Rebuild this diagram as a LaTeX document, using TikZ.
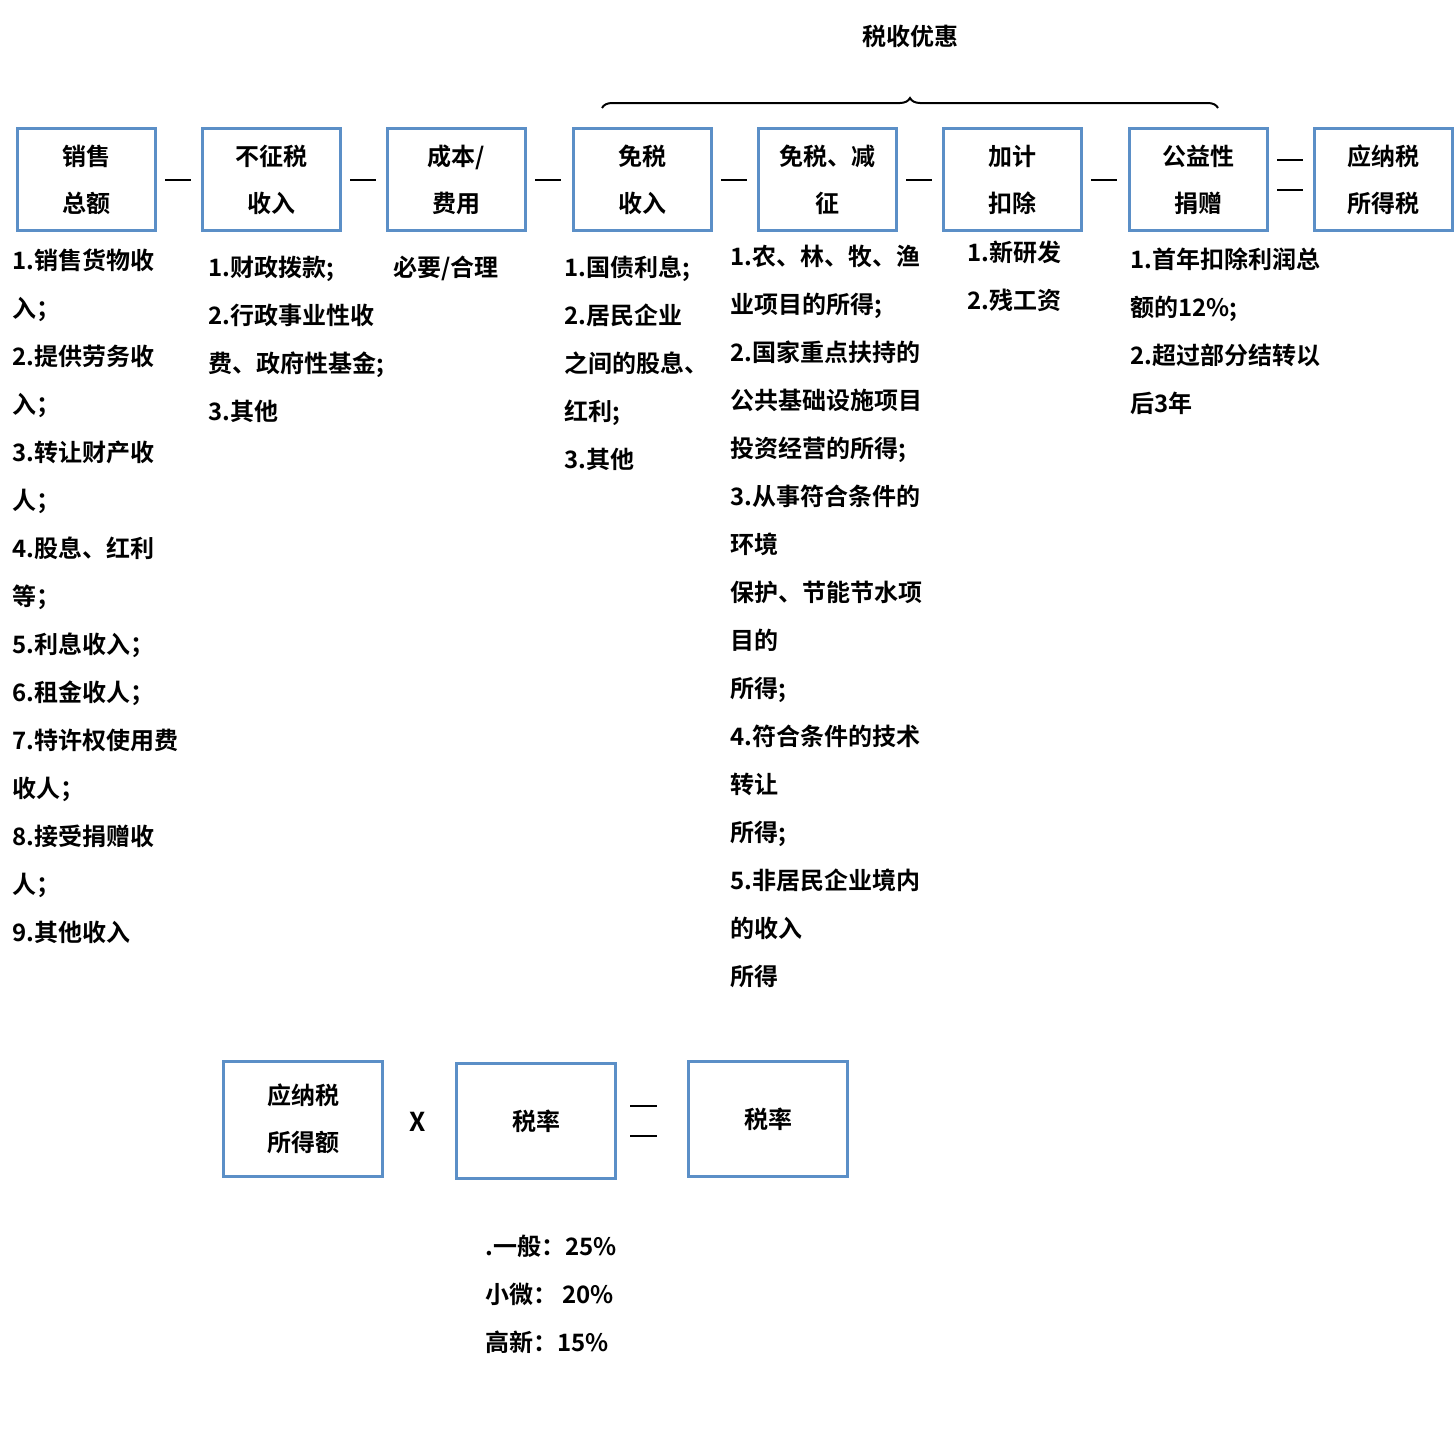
\documentclass[tikz,border=0pt]{standalone}
\usepackage{fontspec}
\setmainfont{Noto Sans CJK SC}[BoldFont={* Bold}]
\usetikzlibrary{decorations.pathreplacing}
\definecolor{bx}{HTML}{5B8FC7}
\begin{document}
\begin{tikzpicture}[x=1pt,y=-1pt,
  box/.style={draw=bx,line width=3pt,minimum width=138pt,minimum height=102pt,align=center,font=\fontsize{24}{47}\selectfont\bfseries,anchor=north west},
  bbox/.style={box,minimum width=159pt,minimum height=115pt},
  lst/.style={anchor=north west,align=left,font=\fontsize{24}{48}\selectfont\bfseries,inner sep=0pt},
  op/.style={font=\fontsize{26}{30}\selectfont\bfseries}]
\useasboundingbox (0,0) rectangle (1456,1432);
\node[box] (b1) at (16,127) {销售\\总额};
\node[box] (b2) at (201,127) {不征税\\收入};
\node[box] (b3) at (386,127) {成本/\\费用};
\node[box] (b4) at (572,127) {免税\\收入};
\node[box] (b5) at (757,127) {免税、减\\征};
\node[box] (b6) at (942,127) {加计\\扣除};
\node[box] (b7) at (1128,127) {公益性\\捐赠};
\node[box] (b8) at (1313,127) {应纳税\\所得税};
\foreach \x in {178,363,548,734,919,1104}{\draw[line width=2pt] (\x-13,180)--(\x+13,180);}
\draw[line width=2pt] (1277,160)--(1303,160) (1277,190)--(1303,190);
\draw[line width=2pt,decorate,decoration={brace,amplitude=10pt}] (602,108) -- (1218,108);
\node[op,font=\fontsize{24}{30}\selectfont\bfseries] (yh) at (910,36) {税收优惠};
\node[lst] (l1) at (12,249) {1.销售货物收\\入；\\2.提供劳务收\\入；\\3.转让财产收\\人；\\4.股息、红利\\等；\\5.利息收入；\\6.租金收人；\\7.特许权使用费\\收人；\\8.接受捐赠收\\人；\\9.其他收入};
\node[lst] (l2) at (208,256) {1.财政拨款;\\2.行政事业性收\\费、政府性基金;\\3.其他};
\node[lst] (l3) at (393,256) {必要/合理};
\node[lst] (l4) at (564,256) {1.国债利息;\\2.居民企业\\之间的股息、\\红利;\\3.其他};
\node[lst] (l5) at (730,245) {1.农、林、牧、渔\\业项目的所得;\\2.国家重点扶持的\\公共基础设施项目\\投资经营的所得;\\3.从事符合条件的\\环境\\保护、节能节水项\\目的\\所得;\\4.符合条件的技术\\转让\\所得;\\5.非居民企业境内\\的收入\\所得};
\node[lst] (l6) at (967,241) {1.新研发\\2.残工资};
\node[lst] (l7) at (1130,248) {1.首年扣除利润总\\额的12\%;\\2.超过部分结转以\\后3年};
\node[bbox] (c1) at (222,1060) {应纳税\\所得额};
\node[op] (x) at (418,1122) {X};
\node[bbox] (c2) at (455,1062) {税率};
\draw[line width=2pt] (630,1106)--(657,1106) (630,1136)--(657,1136);
\node[bbox] (c3) at (687,1060) {税率};
\node[lst] (l8) at (485,1235) {.一般：25\%\\小微：\ 20\%\\高新：15\%};
\end{tikzpicture}
\end{document}
